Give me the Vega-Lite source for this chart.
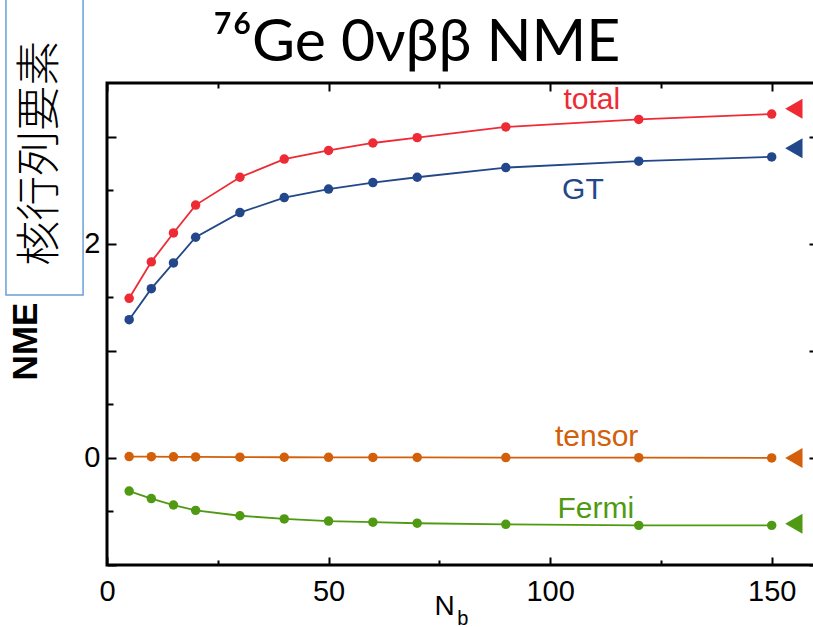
{
  "$schema": "https://vega.github.io/schema/vega-lite/v6.json",
  "width": 709,
  "height": 482,
  "autosize": {"type": "none"},
  "padding": {"left": 107, "top": 83, "right": 0, "bottom": 62},
  "background": "white",
  "config": {
    "view": {"stroke": "black", "strokeWidth": 3},
    "axis": {"domain": false, "grid": false, "tickColor": "black", "tickWidth": 2, "labelFont": "Liberation Sans", "labelFontSize": 29, "labelColor": "black", "labelFlush": false, "titleFont": "Liberation Sans", "titleColor": "black"}
  },
  "title": {"text": "⁷⁶Ge 0νββ NME", "font": "Lato", "fontSize": 59, "fontWeight": "normal", "color": "black", "anchor": "middle", "frame": "group", "baseline": "alphabetic", "dx": -45, "offset": -126},
  "datasets": {
    "nme": [
      {"Nb": 5, "series": "total", "NME": 1.49}, {"Nb": 10, "series": "total", "NME": 1.83}, {"Nb": 15, "series": "total", "NME": 2.10}, {"Nb": 20, "series": "total", "NME": 2.36}, {"Nb": 30, "series": "total", "NME": 2.62}, {"Nb": 40, "series": "total", "NME": 2.79}, {"Nb": 50, "series": "total", "NME": 2.87}, {"Nb": 60, "series": "total", "NME": 2.94}, {"Nb": 70, "series": "total", "NME": 2.99}, {"Nb": 90, "series": "total", "NME": 3.09}, {"Nb": 120, "series": "total", "NME": 3.16}, {"Nb": 150, "series": "total", "NME": 3.21},
      {"Nb": 5, "series": "GT", "NME": 1.29}, {"Nb": 10, "series": "GT", "NME": 1.58}, {"Nb": 15, "series": "GT", "NME": 1.82}, {"Nb": 20, "series": "GT", "NME": 2.06}, {"Nb": 30, "series": "GT", "NME": 2.29}, {"Nb": 40, "series": "GT", "NME": 2.43}, {"Nb": 50, "series": "GT", "NME": 2.51}, {"Nb": 60, "series": "GT", "NME": 2.57}, {"Nb": 70, "series": "GT", "NME": 2.62}, {"Nb": 90, "series": "GT", "NME": 2.71}, {"Nb": 120, "series": "GT", "NME": 2.77}, {"Nb": 150, "series": "GT", "NME": 2.81},
      {"Nb": 5, "series": "tensor", "NME": 0.012}, {"Nb": 10, "series": "tensor", "NME": 0.011}, {"Nb": 15, "series": "tensor", "NME": 0.010}, {"Nb": 20, "series": "tensor", "NME": 0.009}, {"Nb": 30, "series": "tensor", "NME": 0.007}, {"Nb": 40, "series": "tensor", "NME": 0.006}, {"Nb": 50, "series": "tensor", "NME": 0.005}, {"Nb": 60, "series": "tensor", "NME": 0.004}, {"Nb": 70, "series": "tensor", "NME": 0.004}, {"Nb": 90, "series": "tensor", "NME": 0.003}, {"Nb": 120, "series": "tensor", "NME": 0.002}, {"Nb": 150, "series": "tensor", "NME": 0.0},
      {"Nb": 5, "series": "Fermi", "NME": -0.31}, {"Nb": 10, "series": "Fermi", "NME": -0.38}, {"Nb": 15, "series": "Fermi", "NME": -0.44}, {"Nb": 20, "series": "Fermi", "NME": -0.49}, {"Nb": 30, "series": "Fermi", "NME": -0.54}, {"Nb": 40, "series": "Fermi", "NME": -0.57}, {"Nb": 50, "series": "Fermi", "NME": -0.59}, {"Nb": 60, "series": "Fermi", "NME": -0.60}, {"Nb": 70, "series": "Fermi", "NME": -0.61}, {"Nb": 90, "series": "Fermi", "NME": -0.62}, {"Nb": 120, "series": "Fermi", "NME": -0.63}, {"Nb": 150, "series": "Fermi", "NME": -0.63}
    ],
    "ends": [
      {"Nb": 155, "series": "total", "NME": 3.26},
      {"Nb": 155, "series": "GT", "NME": 2.89},
      {"Nb": 155, "series": "tensor", "NME": 0.0},
      {"Nb": 155, "series": "Fermi", "NME": -0.615}
    ],
    "labels": [
      {"Nb": 109.4, "series": "total", "NME": 3.34},
      {"Nb": 107.4, "series": "GT", "NME": 2.50},
      {"Nb": 110.5, "series": "tensor", "NME": 0.196},
      {"Nb": 110.3, "series": "Fermi", "NME": -0.476}
    ],
    "xtitle": [
      {"part": "N", "Nb": 76.2, "NME": -1.39, "kind": "main"},
      {"part": "b", "Nb": 80.3, "NME": -1.50, "kind": "sub"}
    ],
    "note": [
      {"text": "核行列要素", "x1": -22.8, "x2": -5.4, "y1": 4.32, "y2": 1.52, "tx": -14.8, "ty": 2.845}
    ]
  },
  "layer": [
    {
      "data": {"name": "nme"},
      "mark": {"type": "line", "strokeWidth": 1.8},
      "encoding": {
        "x": {"field": "Nb", "type": "quantitative", "scale": {"domain": [0, 160], "nice": false, "zero": false},
              "axis": {"orient": "bottom", "values": [0, 50, 100, 150], "tickSize": -8, "labelPadding": 20, "title": null}},
        "y": {"field": "NME", "type": "quantitative", "scale": {"domain": [-1, 3.5], "nice": false, "zero": false},
              "axis": {"orient": "left", "values": [-1, 0, 1, 2, 3], "tickSize": -9, "labelPadding": 16, "labelExpr": "datum.value == 0 || datum.value == 2 ? datum.label : ''", "title": "NME", "titleFontSize": 35, "titleFontWeight": "bold", "titlePadding": 40, "titleY": 258}},
        "color": {"field": "series", "type": "nominal", "scale": {"domain": ["total", "GT", "tensor", "Fermi"], "range": ["#EE2B35", "#22478A", "#D35F0B", "#4F9A12"]}, "legend": null},
        "detail": {"field": "series"}
      }
    },
    {
      "data": {"name": "nme"},
      "mark": {"type": "point", "filled": true, "size": 90, "opacity": 1},
      "encoding": {
        "x": {"field": "Nb", "type": "quantitative", "axis": {"orient": "bottom", "values": [25, 75, 125], "tickSize": -5, "labels": false, "title": null}},
        "y": {"field": "NME", "type": "quantitative", "axis": {"orient": "left", "values": [-0.5, 0.5, 1.5, 2.5], "tickSize": -6, "labels": false, "title": null}},
        "color": {"field": "series", "type": "nominal", "legend": null}
      }
    },
    {
      "data": {"name": "ends"},
      "mark": {"type": "point", "shape": "triangle-left", "filled": true, "size": 400, "opacity": 1, "clip": false},
      "encoding": {
        "x": {"field": "Nb", "type": "quantitative", "axis": {"orient": "top", "values": [0, 50, 100, 150], "tickSize": -8, "labels": false, "title": null}},
        "y": {"field": "NME", "type": "quantitative", "axis": {"orient": "right", "values": [-1, 0, 1, 2, 3], "tickSize": -7, "labels": false, "title": null}},
        "color": {"field": "series", "type": "nominal", "legend": null}
      }
    },
    {
      "data": {"name": "labels"},
      "mark": {"type": "text", "font": "Liberation Sans", "fontSize": 30, "align": "center", "baseline": "middle"},
      "encoding": {
        "x": {"field": "Nb", "type": "quantitative", "axis": {"orient": "top", "values": [25, 75, 125], "tickSize": -5, "labels": false, "title": null}},
        "y": {"field": "NME", "type": "quantitative", "axis": {"orient": "right", "values": [-0.5, 0.5, 1.5, 2.5], "tickSize": -3, "labels": false, "title": null}},
        "text": {"field": "series"},
        "color": {"field": "series", "type": "nominal", "legend": null}
      }
    },
    {
      "data": {"name": "xtitle"},
      "mark": {"type": "text", "font": "Liberation Sans", "align": "center", "baseline": "middle", "color": "black", "clip": false},
      "encoding": {
        "x": {"field": "Nb", "type": "quantitative", "axis": null},
        "y": {"field": "NME", "type": "quantitative", "axis": null},
        "text": {"field": "part"},
        "size": {"field": "kind", "type": "nominal", "scale": {"domain": ["main", "sub"], "range": [28, 20]}, "legend": null}
      }
    },
    {
      "data": {"name": "note"},
      "mark": {"type": "rect", "fill": "white", "stroke": "#6A9FD8", "strokeWidth": 1.5, "clip": false},
      "encoding": {
        "x": {"field": "x1", "type": "quantitative", "axis": null},
        "x2": {"field": "x2"},
        "y": {"field": "y1", "type": "quantitative", "axis": null},
        "y2": {"field": "y2"}
      }
    },
    {
      "data": {"name": "note"},
      "mark": {"type": "text", "font": "Noto Sans CJK JP", "fontSize": 45, "fontWeight": 300, "angle": 270, "align": "center", "baseline": "middle", "color": "black", "clip": false},
      "encoding": {
        "x": {"field": "tx", "type": "quantitative", "axis": null},
        "y": {"field": "ty", "type": "quantitative", "axis": null},
        "text": {"field": "text"}
      }
    }
  ],
  "resolve": {"axis": {"x": "independent", "y": "independent"}}
}
